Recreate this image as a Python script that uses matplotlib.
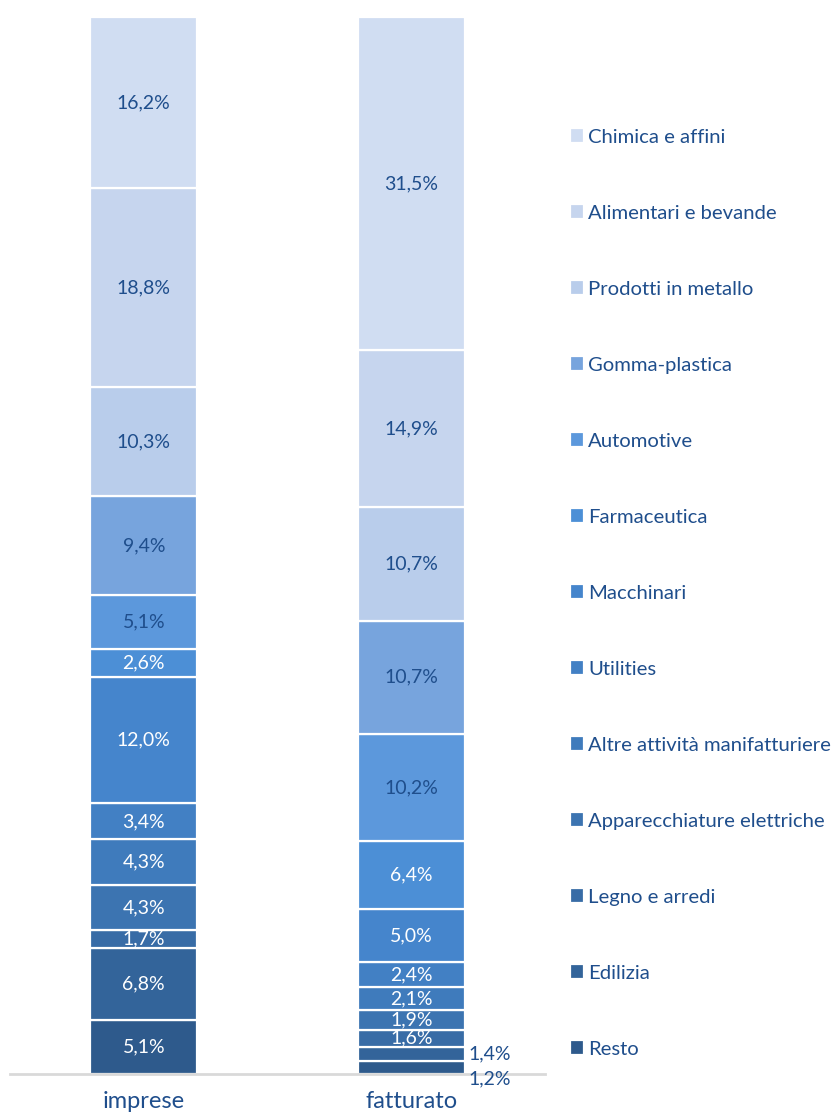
import matplotlib
matplotlib.use('Agg')
import matplotlib.pyplot as plt
import numpy as np

# categories, bottom to top of the stack
settori = ['Resto', 'Edilizia', 'Legno e arredi', 'Apparecchiature elettriche',
           'Altre attività manifatturiere', 'Utilities', 'Macchinari', 'Farmaceutica',
           'Automotive', 'Gomma-plastica', 'Prodotti in metallo',
           'Alimentari e bevande', 'Chimica e affini']
gruppi = ['imprese', 'fatturato']
imprese = [5.1, 6.8, 1.7, 4.3, 4.3, 3.4, 12.0, 2.6, 5.1, 9.4, 10.3, 18.8, 16.2]
fatturato = [1.2, 1.4, 1.6, 1.9, 2.1, 2.4, 5.0, 6.4, 10.2, 10.7, 10.7, 14.9, 31.5]

colori = ['#2E5A8C', '#33649A', '#386CA6', '#3C74B1', '#3F7BBC', '#4280C4',
          '#4585CC', '#4C8FD6', '#5C98DC', '#77A4DD', '#B9CDEB', '#C6D5EE', '#D0DDF2']
# label colour: white on the dark segments, dark blue on the light ones
etichetta_bianca = [True] * 8 + [False] * 5
BLU = '#1F4E8C'

plt.rcParams['font.family'] = ['Lato', 'DejaVu Sans']

fig = plt.figure(figsize=(8.35, 11.17), dpi=100)
ax = fig.add_axes([10 / 835, 43 / 1117, 535 / 835, 1057 / 1117])

valori = np.array([imprese, fatturato])  # shape (2, n)
x = np.arange(len(gruppi))
base = np.zeros(len(gruppi))
handles = []
for i, nome in enumerate(settori):
    h = ax.bar(x, valori[:, i], bottom=base, width=0.4, color=colori[i],
               edgecolor='white', linewidth=1.6, label=nome)
    handles.append(h)
    for j in range(len(gruppi)):
        v = valori[j, i]
        centro = base[j] + v / 2
        testo = ('%.1f%%' % v).replace('.', ',')
        if gruppi[j] == 'fatturato' and i < 2:
            # tiny segments: label outside, to the right
            dy = -8 if i == 0 else 0
            ax.annotate(testo, (x[j] + 0.2, centro), xytext=(3, dy),
                        textcoords='offset points', ha='left', va='center',
                        fontsize=14, color=BLU)
        else:
            ax.text(x[j], centro, testo, ha='center', va='center', fontsize=14,
                    color='white' if etichetta_bianca[i] else BLU)
    base += valori[:, i]

ax.set_xlim(-0.5, 1.5)
ax.set_ylim(0, 100)
ax.set_xticks(x)
ax.set_xticklabels(gruppi, fontsize=17, color=BLU)
ax.tick_params(axis='x', length=0, pad=12)
ax.set_yticks([])
for s in ['top', 'right', 'left']:
    ax.spines[s].set_visible(False)
ax.spines['bottom'].set_color('#D9D9D9')
ax.spines['bottom'].set_linewidth(2)

leg = fig.legend(handles[::-1], settori[::-1], loc='center left',
                 bbox_to_anchor=(570 / 835, 1 - 593 / 1117), frameon=False,
                 fontsize=14.6, handlelength=0.7, handleheight=0.7,
                 handletextpad=0.2, labelspacing=2.9, borderaxespad=0,
                 borderpad=0)
for t in leg.get_texts():
    t.set_color(BLU)

fig.savefig('out.png', dpi=100)
